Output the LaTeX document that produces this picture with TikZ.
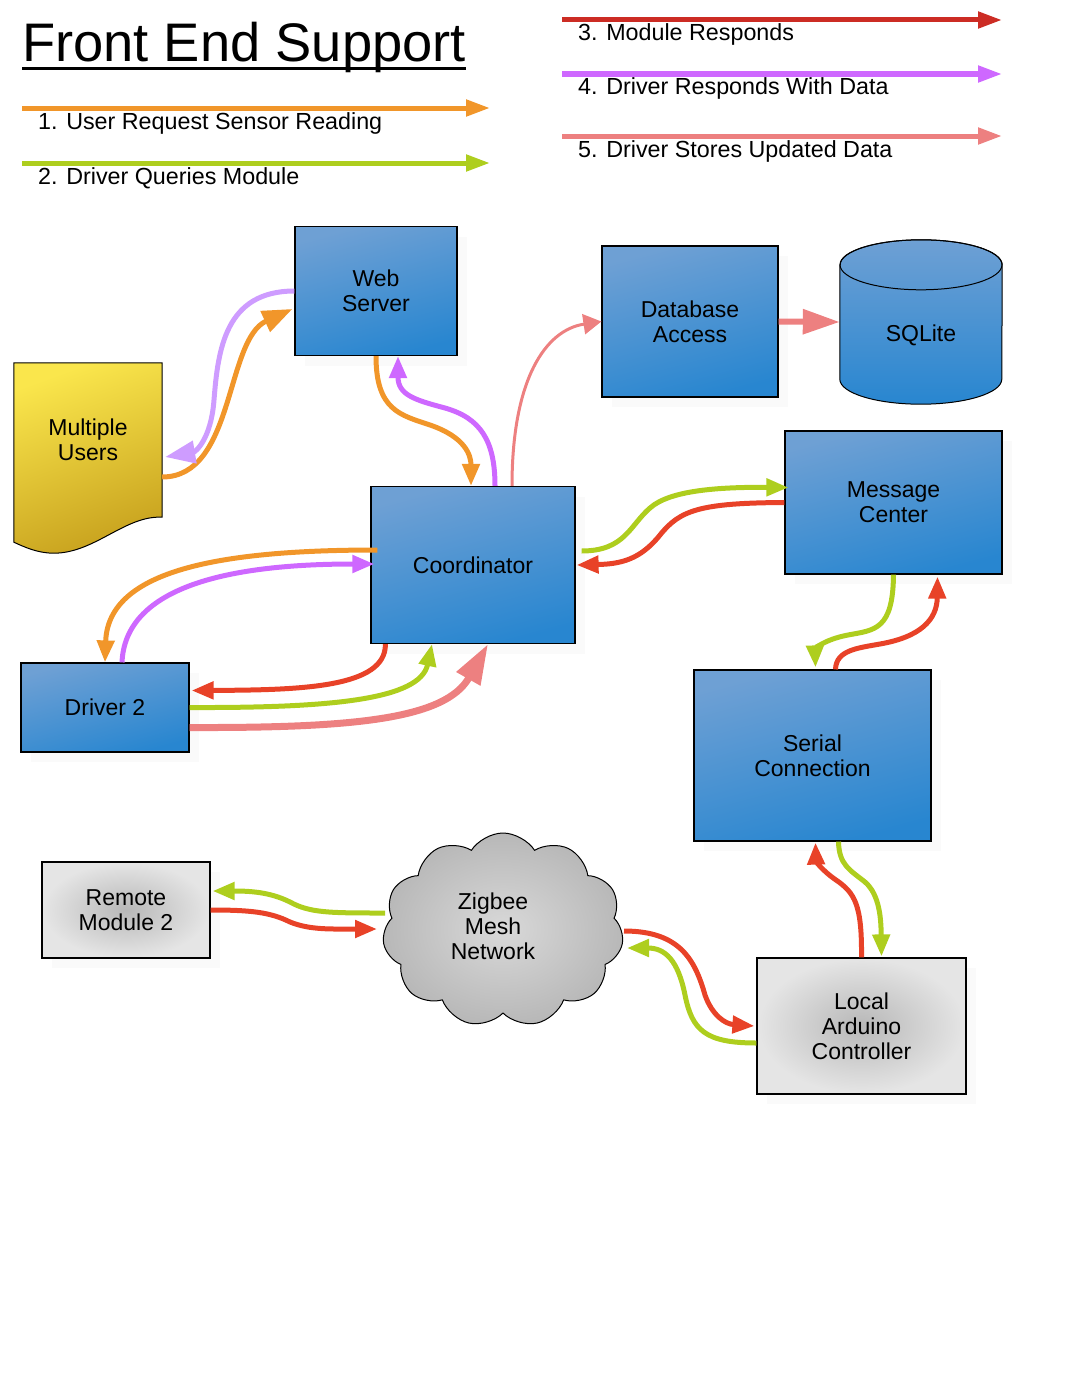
\documentclass[tikz,border=0pt]{standalone}
\usepackage{fontspec}
\setmainfont{Liberation Sans}
\usetikzlibrary{arrows.meta,shapes.symbols,shadows}

\definecolor{reqorange}{RGB}{241,150,42}
\definecolor{querygreen}{RGB}{174,206,30}
\definecolor{respred}{RGB}{232,66,40}
\definecolor{legendred}{RGB}{204,44,36}
\definecolor{datapurple}{RGB}{206,104,255}
\definecolor{lightpurple}{RGB}{206,156,255}
\definecolor{storepink}{RGB}{237,128,128}
\definecolor{boxtop}{RGB}{110,160,212}
\definecolor{boxbottom}{RGB}{40,134,208}
\definecolor{docyellow}{RGB}{250,230,76}
\definecolor{docgold}{RGB}{200,162,30}

\begin{document}
\begin{tikzpicture}[x=1pt,y=1pt]
    \tikzstyle{flow}=[line width=5pt,-{Triangle[length=22pt,width=17pt]}]
    \tikzstyle{boxtext}=[align=center,font=\fontsize{23}{25}\selectfont]
    \tikzstyle{bluebox}=[boxtext,rectangle,draw=black,line width=1.2pt,top color=boxtop,bottom color=boxbottom,shading angle=15,drop shadow={shadow xshift=10pt,shadow yshift=-10pt,fill=black!2,opacity=1}]
    \tikzstyle{graybox}=[boxtext,rectangle,draw=black,line width=1.2pt,inner color=black!28,outer color=black!10,drop shadow={shadow xshift=10pt,shadow yshift=-10pt,fill=black!2,opacity=1}]
    \tikzstyle{legend}=[anchor=base west,inner sep=0pt,font=\fontsize{23.3}{25}\selectfont]

    \useasboundingbox (0,0) rectangle (1080,-1397);

    % title
    \node[anchor=base west,inner sep=0pt,font=\fontsize{54.3}{60}\selectfont] (title) at (22,-62) {Front End Support};
    \draw[line width=3pt] ([yshift=-7pt]title.base west) -- ([yshift=-7pt]title.base east);

    % legend arrows
    \foreach \n/\x/\y/\len/\c/\txt in {1/22/108/468/reqorange/1. User Request Sensor Reading,
        2/22/163/468/querygreen/2. Driver Queries Module,
        3/562/20/440/legendred/3. Module Responds,
        4/562/74/440/datapurple/4. Driver Responds With Data,
        5/562/136/440/storepink/5. Driver Stores Updated Data}
    {
      \coordinate (key-\n-a) at (\x,-\y);
      \coordinate (key-\n-b) at (\x+\len,-\y);
      \draw[\c,line width=5pt,-{Triangle[length=24pt,width=16pt]}] (key-\n-a) -- (key-\n-b);
      \node[legend] (key-\n-text) at (\x+16,-\y-21) {\txt};
    }

    % front end nodes
    \node[bluebox,minimum width=162pt,minimum height=129pt] (web) at (376,-291) {Web\\Server};
    \node[bluebox,minimum width=204pt,minimum height=157pt] (coord) at (473,-565) {Coordinator};
    \node[bluebox,minimum width=176pt,minimum height=151pt] (dbaccess) at (690,-321.5) {Database\\Access};
    \node[bluebox,minimum width=168pt,minimum height=89pt] (driver) at (105,-707.5) {Driver 2};

    % users document
    \node[minimum width=148pt,minimum height=154pt,inner sep=0pt] (users) at (88,-440) {};
    \path[draw=black,line width=1pt,top color=docyellow,bottom color=docgold,shading angle=20]
      (users.north west) -- (users.north east) -- (users.south east)
      .. controls ([xshift=-37pt,yshift=2pt]users.south east) and ([xshift=81pt,yshift=-36pt]users.south west)
      .. ([xshift=40pt,yshift=-36pt]users.south west)
      .. controls ([xshift=24pt,yshift=-36pt]users.south west) and ([xshift=11pt,yshift=-30pt]users.south west)
      .. ([yshift=-25pt]users.south west) -- cycle;
    \node[boxtext] (users-label) at (users) {Multiple\\Users};

    % sqlite cylinder
    \node[minimum width=162pt,minimum height=164pt,inner sep=0pt] (sqlite) at (921,-322) {};
    \path[draw=black,line width=1pt,top color=boxtop,bottom color=boxbottom]
      ([yshift=-25pt]sqlite.north west) -- ([yshift=25pt]sqlite.south west)
      arc[start angle=180,end angle=360,x radius=81pt,y radius=25pt]
      -- ([yshift=-25pt]sqlite.north east)
      arc[start angle=0,end angle=180,x radius=81pt,y radius=25pt] -- cycle;
    \draw[line width=1pt] ([yshift=-25pt]sqlite.north) ellipse[x radius=81pt,y radius=25pt];
    \node[boxtext] (sqlite-label) at ([yshift=-13pt]sqlite.center) {SQLite};

    % back end nodes
    \node[bluebox,minimum width=217pt,minimum height=143pt] (message) at (893.5,-502.5) {Message\\Center};
    \node[bluebox,minimum width=237pt,minimum height=171pt] (serial) at (812.5,-755.5) {Serial\\Connection};
    \node[graybox,minimum width=209pt,minimum height=136pt] (local) at (861.5,-1026) {Local\\Arduino\\Controller};
    \node[graybox,minimum width=168pt,minimum height=96pt] (remote) at (126,-910) {Remote\\Module 2};
    \node[cloud,cloud puffs=11,cloud puff arc=115,draw=black,line width=1pt,inner color=black!15,outer color=black!28,
          minimum width=241pt,minimum height=194pt] (zigbee) at (503,-930) {};
    \node[boxtext] (zigbee-label) at (493,-926) {Zigbee\\Mesh\\Network};

    % users <-> web server
    \draw[flow,reqorange,-{Triangle[length=30pt,width=22pt]}] ([yshift=-37pt]users.east)
      .. controls (235,-477) and (225,-340) .. ([xshift=-2pt,yshift=-18pt]web.west);
    \draw[flow,lightpurple,-{Triangle[length=30pt,width=22pt]}] (web.west)
      .. controls (225,-291) and (218,-350) .. (214,-400)
      .. controls (211,-440) and (195,-452) .. ([xshift=3pt,yshift=-17pt]users.east);

    % web server <-> coordinator
    \draw[flow,reqorange] (web.south) .. controls (376,-410) and (400,-415) .. (430,-425)
      .. controls (465,-437) and (471,-455) .. ([xshift=-2pt]coord.north);
    \draw[flow,datapurple] ([xshift=22pt]coord.north) .. controls (495,-440) and (480,-418) .. (445,-408)
      .. controls (415,-400) and (398,-395) .. ([xshift=22pt]web.south);

    % coordinator -> database -> sqlite
    \draw[storepink,line width=3pt,-{Triangle[length=18pt,width=20pt]}] ([xshift=39pt]coord.north)
      .. controls (512,-380) and (545,-330) .. (dbaccess.west);
    \draw[storepink,line width=6pt,-{Triangle[length=37pt,width=24pt]}] (dbaccess.east) -- (sqlite.west);

    % coordinator <-> driver 2
    \draw[flow,reqorange] ([xshift=7pt,yshift=15pt]coord.west) .. controls (220,-550) and (108,-570) .. (driver.north);
    \draw[flow,datapurple] ([xshift=17pt]driver.north) .. controls (125,-590) and (220,-564) .. ([xshift=4pt,yshift=1pt]coord.west);
    \draw[flow,respred] ([xshift=15pt]coord.south west) .. controls (386,-688) and (300,-690) .. ([xshift=2pt,yshift=17pt]driver.east);
    \draw[flow,querygreen] (driver.east) .. controls (330,-708) and (420,-700) .. ([xshift=-41pt]coord.south);
    \draw[storepink,line width=7pt,-{Triangle[length=40pt,width=26pt]}] ([yshift=-20pt]driver.east)
      .. controls (350,-728) and (445,-720) .. ([xshift=15pt]coord.south);

    % coordinator <-> message center
    \draw[flow,querygreen] ([xshift=6pt,yshift=14pt]coord.east) .. controls (625,-551) and (630,-525) .. (650,-508)
      .. controls (670,-490) and (720,-487) .. ([xshift=4pt,yshift=15pt]message.west);
    \draw[flow,respred] (message.west) .. controls (700,-503) and (680,-510) .. (660,-535)
      .. controls (640,-560) and (620,-564) .. ([xshift=1pt]coord.east);

    % message center <-> serial connection
    \draw[flow,querygreen] (message.south) .. controls (893,-630) and (875,-630) .. (848,-635)
      .. controls (822,-640) and (815,-650) .. ([xshift=3pt,yshift=2pt]serial.north);
    \draw[flow,respred] ([xshift=23pt]serial.north) .. controls (836,-650) and (858,-648) .. (880,-644)
      .. controls (920,-637) and (937,-620) .. ([xshift=44pt,yshift=-2pt]message.south);

    % serial connection <-> local arduino
    \draw[flow,respred] (local.north) .. controls (862,-905) and (855,-893) .. (836,-880)
      .. controls (820,-869) and (816,-860) .. ([xshift=3pt,yshift=-1pt]serial.south);
    \draw[flow,querygreen] ([xshift=26pt]serial.south) .. controls (839,-865) and (850,-870) .. (865,-882)
      .. controls (880,-895) and (881,-920) .. ([xshift=20pt,yshift=1pt]local.north);

    % zigbee <-> remote module
    \draw[flow,querygreen] ([xshift=-118pt,yshift=17pt]zigbee.center) .. controls (330,-913) and (310,-913) .. (290,-902)
      .. controls (270,-892) and (250,-891) .. ([xshift=2pt,yshift=19pt]remote.east);
    \draw[flow,respred] (remote.east) .. controls (250,-910) and (270,-912) .. (290,-922)
      .. controls (310,-930) and (330,-929) .. ([xshift=-126pt,yshift=1pt]zigbee.center);

    % zigbee <-> local arduino
    \draw[flow,respred] ([xshift=121pt,yshift=-1pt]zigbee.center) .. controls (680,-931) and (695,-960) .. (705,-995)
      .. controls (712,-1015) and (725,-1024) .. ([xshift=-2pt]local.west);
    \draw[flow,querygreen] ([yshift=-17pt]local.west) .. controls (705,-1043) and (692,-1030) .. (685,-995)
      .. controls (678,-960) and (665,-948) .. ([xshift=124pt,yshift=-18pt]zigbee.center);
\end{tikzpicture}
\end{document}
